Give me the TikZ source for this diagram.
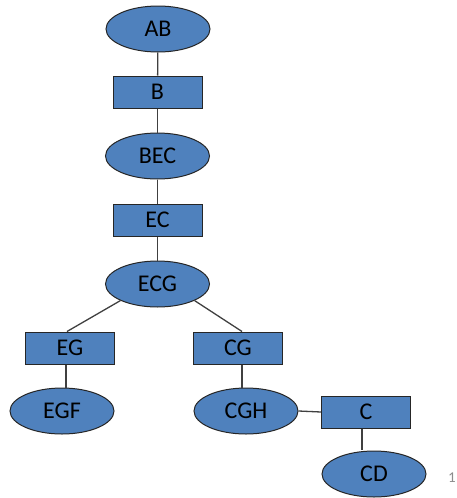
\documentclass[tikz,border=0pt]{standalone}
\usepackage{fontspec}
\setmainfont{Carlito}
\usetikzlibrary{shapes.geometric}
\definecolor{nodeblue}{RGB}{79,129,189}
\tikzset{
  ell/.style={ellipse, draw=black!85, line width=1pt, fill=nodeblue, minimum width=104pt, minimum height=46pt, inner sep=0pt, font=\fontsize{24}{28}\selectfont},
  sep/.style={rectangle, draw=black!85, line width=1pt, fill=nodeblue, minimum width=89pt, minimum height=32pt, inner sep=0pt, font=\fontsize{24}{28}\selectfont},
  conn/.style={draw=black!75, line width=1.3pt}
}
\begin{document}
\begin{tikzpicture}[x=1pt,y=-1pt]
\useasboundingbox (0,0) rectangle (456,498);
\node[ell] (AB) at (158,29) {AB};
\node[sep] (B) at (157.5,92) {B};
\node[ell] (BEC) at (157.5,156) {BEC};
\node[sep] (EC) at (157.5,220) {EC};
\node[ell] (ECG) at (157.5,284) {ECG};
\node[sep] (EG) at (70,348) {EG};
\node[sep] (CG) at (238,348) {CG};
\node[ell] (EGF) at (62,411) {EGF};
\node[ell] (CGH) at (246,411) {CGH};
\node[sep] (C) at (366,412) {C};
\node[ell] (CD) at (374,474) {CD};
\node[text=black!45, font=\fontsize{15}{17}\selectfont] (pg) at (452,478) {1};
\draw[conn] (AB) -- (B);
\draw[conn] (B) -- (BEC);
\draw[conn] (BEC) -- (EC);
\draw[conn] (EC) -- (ECG);
\draw[conn] (ECG.south west) -- ([xshift=-3pt]EG.north);
\draw[conn] (ECG.south east) -- ([xshift=4pt]CG.north);
\draw[conn] ([xshift=-4pt]EG.south) -- ([xshift=-4pt]EG.south |- EGF.north);
\draw[conn] ([xshift=4pt]CG.south) -- ([xshift=4pt]CG.south |- CGH.north);
\draw[conn] (CGH.east) -- (C.west);
\draw[conn] ([xshift=-4pt]C.south) -- ([xshift=-4pt,yshift=1pt]C.south |- CD.north);
\end{tikzpicture}
\end{document}
